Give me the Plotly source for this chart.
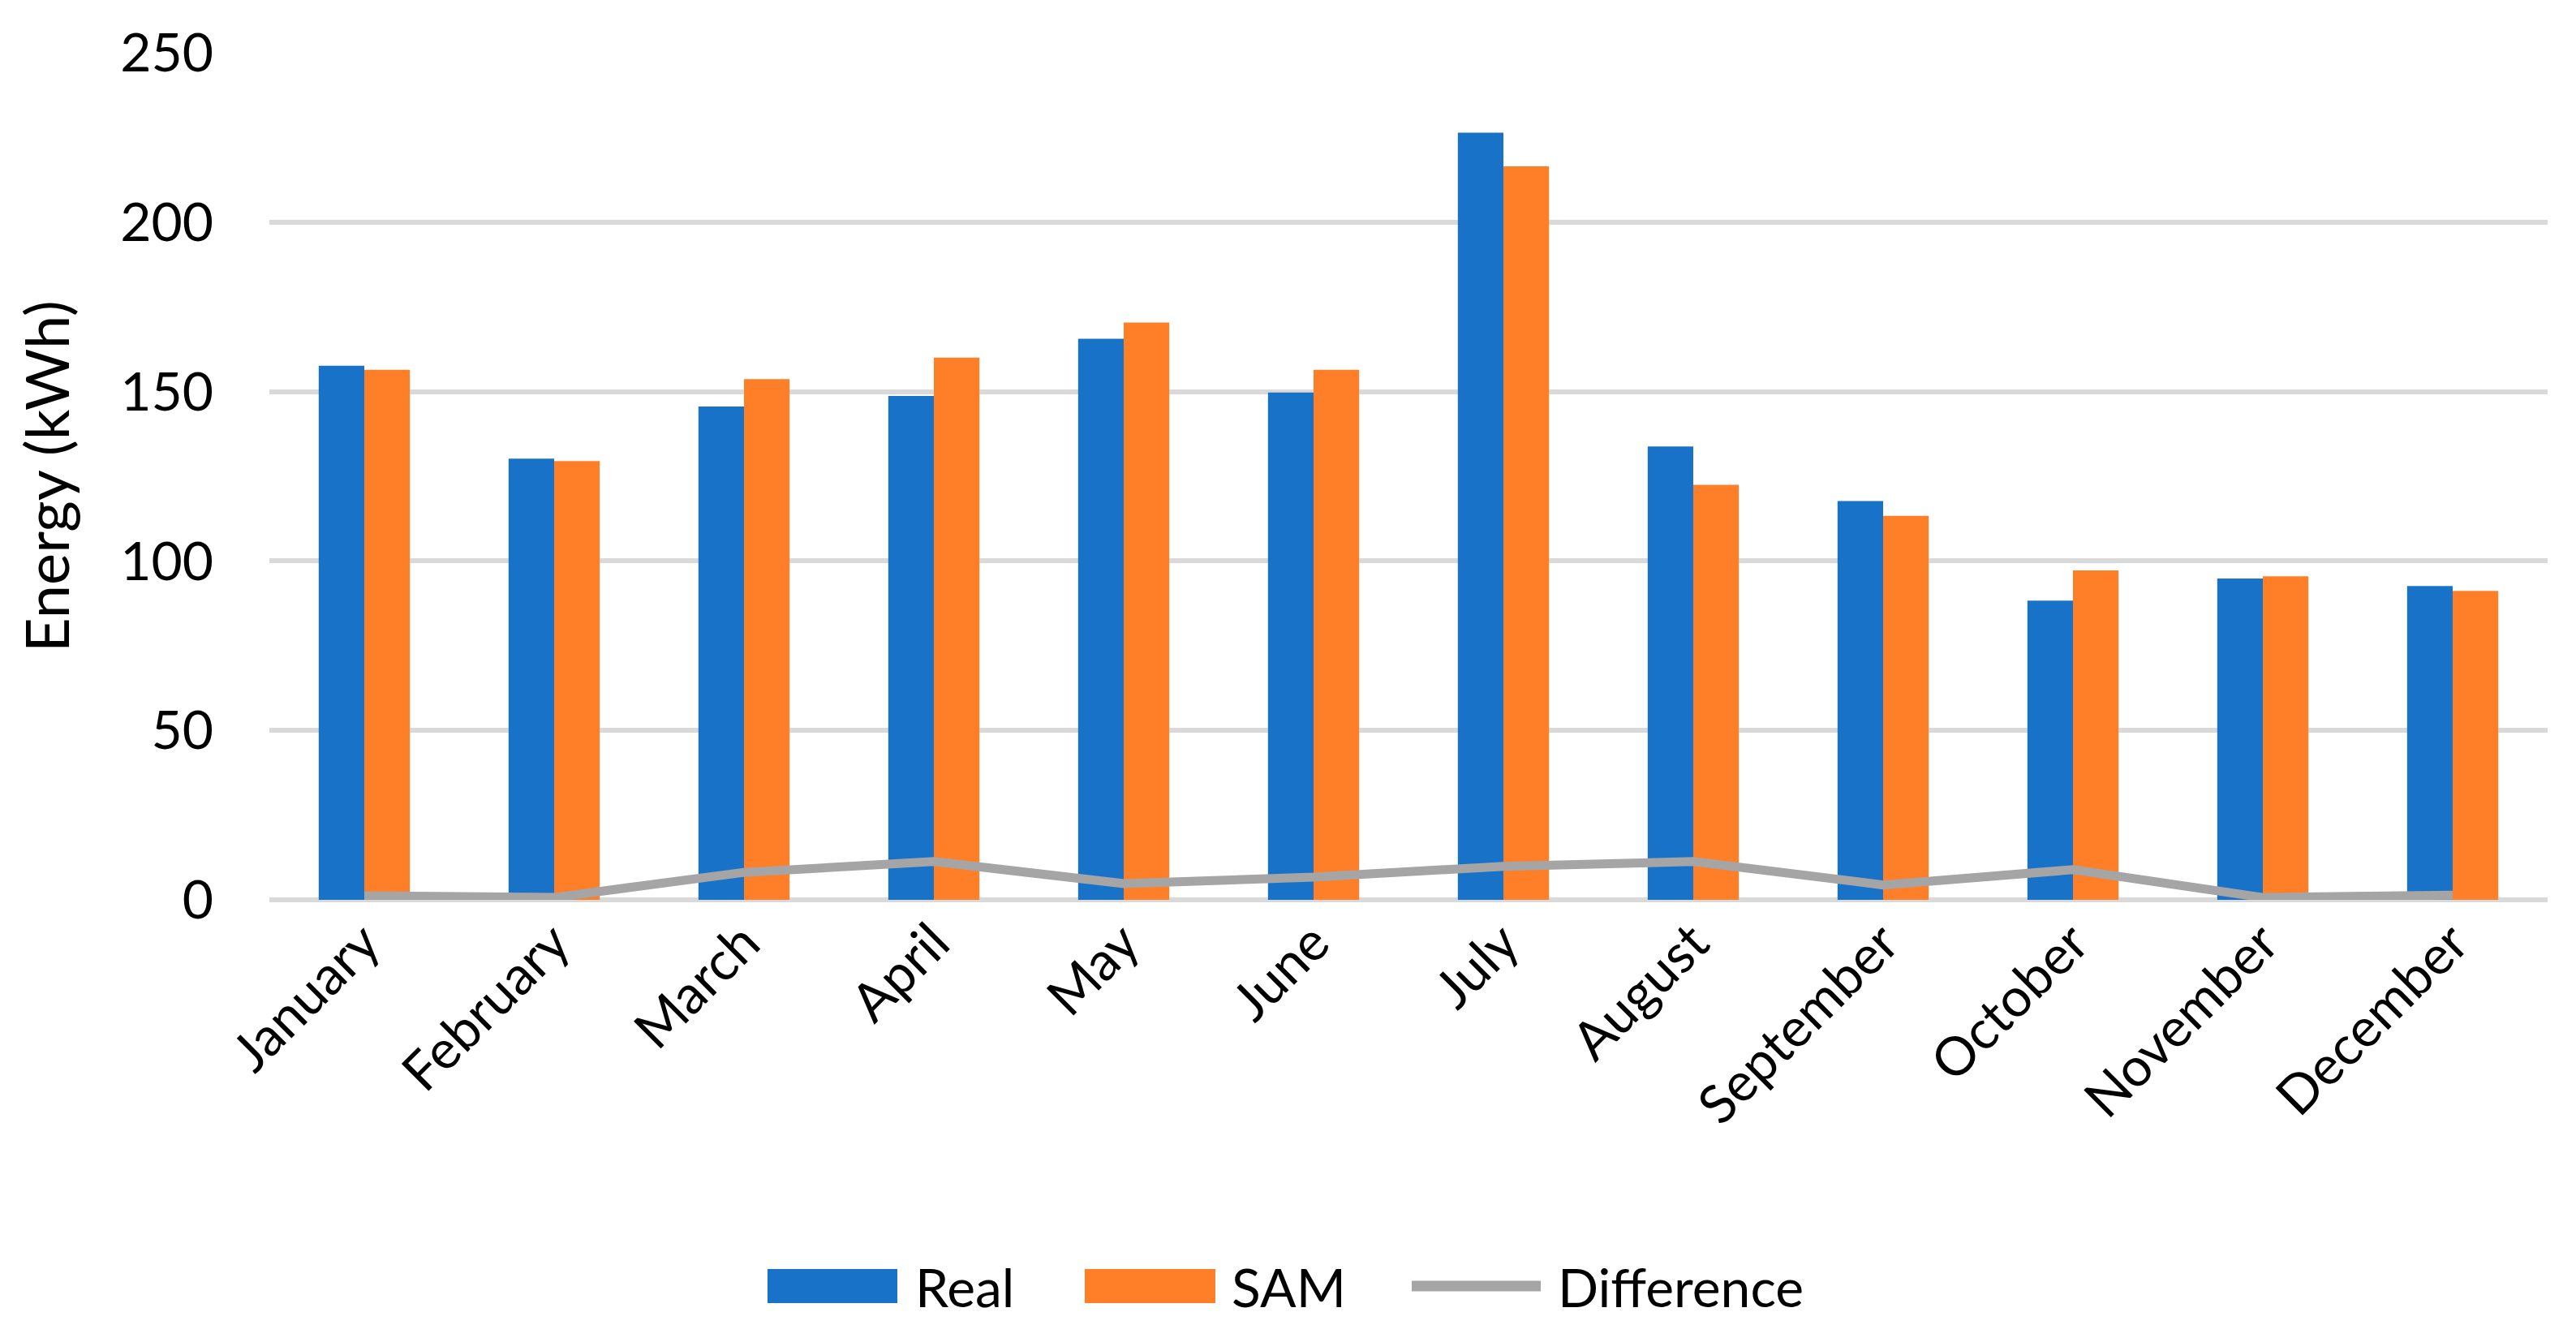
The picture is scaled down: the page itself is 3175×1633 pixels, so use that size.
import plotly.graph_objects as go

months = ["January", "February", "March", "April", "May", "June",
          "July", "August", "September", "October", "November", "December"]
real = [157.6, 130.2, 145.6, 148.7, 165.6, 149.7, 226.4, 133.8, 117.7, 88.3, 94.8, 92.6]
sam = [156.4, 129.5, 153.7, 160.0, 170.4, 156.4, 216.5, 122.5, 113.3, 97.2, 95.5, 91.2]
difference = [1.2, 0.7, 8.1, 11.3, 4.8, 6.7, 9.9, 11.3, 4.4, 8.9, 0.7, 1.4]
y_ticks = [0, 50, 100, 150, 200, 250]

FONT = "Lato"
BLUE = "#1873C8"
ORANGE = "#FE7F28"
GREY = "#A5A5A5"

W, H = 3175, 1633
ML, MR, MT, MB = 324, 43, 57, 532
PW, PH = W - ML - MR, H - MT - MB


def px(x):
    return (x - ML) / PW


def py(y):
    return (H - MB - y) / PH


fig = go.Figure()
fig.add_trace(go.Bar(name="Real", x=months, y=real, marker_color=BLUE, marker_line_width=0,
                     showlegend=False))
fig.add_trace(go.Bar(name="SAM", x=months, y=sam, marker_color=ORANGE, marker_line_width=0,
                     showlegend=False))
fig.add_trace(go.Scatter(name="Difference", x=months, y=difference, mode="lines",
                         line=dict(color=GREY, width=11), showlegend=False))

# manual legend (large symbols like the reference)
shapes = [
    dict(type="rect", xref="paper", yref="paper", x0=px(938), x1=px(1098), y0=py(1598), y1=py(1556),
         fillcolor=BLUE, line=dict(width=0)),
    dict(type="rect", xref="paper", yref="paper", x0=px(1329), x1=px(1490), y0=py(1598), y1=py(1556),
         fillcolor=ORANGE, line=dict(width=0)),
    dict(type="line", xref="paper", yref="paper", x0=px(1732), x1=px(1891), y0=py(1577), y1=py(1577),
         line=dict(color=GREY, width=13)),
]
legend_text = [("Real", 1118), ("SAM", 1508), ("Difference", 1910)]
annotations = [
    dict(text=t, xref="paper", yref="paper", x=px(x), y=py(1577), xanchor="left", yanchor="middle",
         showarrow=False, font=dict(family=FONT, size=66, color="black"))
    for t, x in legend_text
]

fig.update_layout(
    width=W, height=H,
    paper_bgcolor="white", plot_bgcolor="white",
    margin=dict(l=ML, r=MR, t=MT, b=MB),
    barmode="group", bargap=0.52, bargroupgap=0,
    font=dict(family=FONT, size=66, color="black"),
    showlegend=False,
    shapes=shapes,
    annotations=annotations,
)
fig.update_xaxes(tickangle=-45, showgrid=False, showline=False, ticks="",
                 tickfont=dict(size=66))
fig.update_yaxes(range=[0, 250], tickvals=y_ticks, showgrid=True, gridcolor="#D9D9D9",
                 gridwidth=6, zeroline=True, zerolinecolor="#D9D9D9", zerolinewidth=6,
                 showline=False, ticks="", tickfont=dict(size=66), ticklabelstandoff=68,
                 title=dict(text="Energy (kWh)", font=dict(size=74), standoff=38))

fig.write_html("out.html")
